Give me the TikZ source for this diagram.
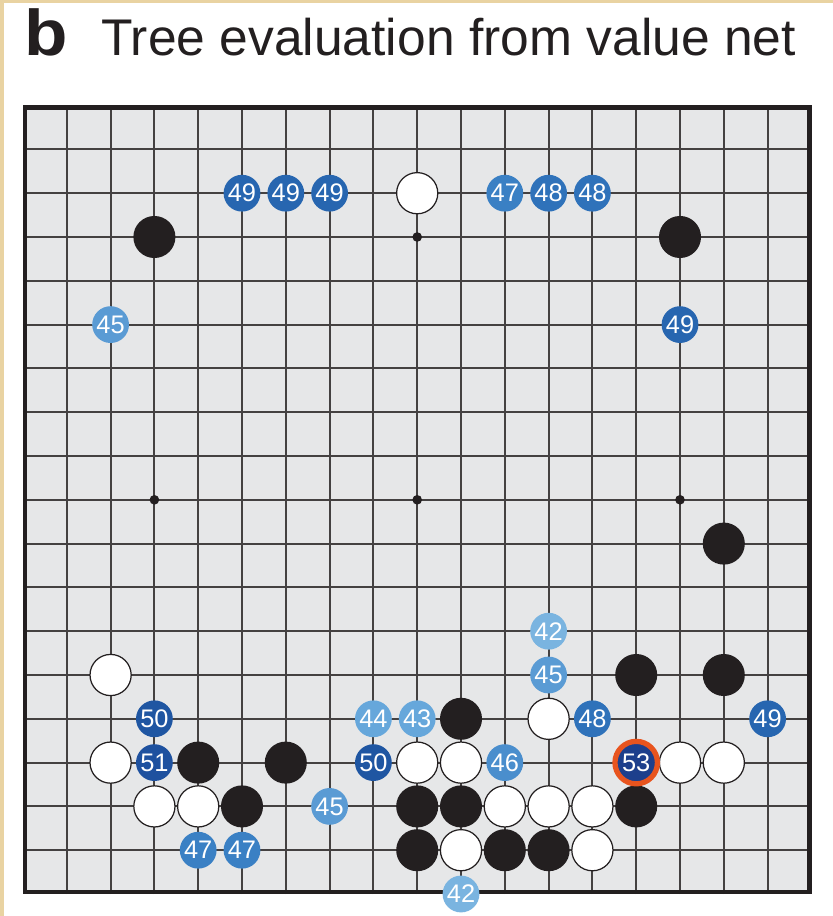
\documentclass[tikz,border=0pt]{standalone}
\usepackage{fontspec}
\setmainfont{Liberation Sans}

\definecolor{paper}{HTML}{E9D3A2}
\definecolor{board}{HTML}{E6E7E8}
\definecolor{ink}{HTML}{231F20}
\definecolor{ring}{HTML}{E8541E}
\definecolor{v42}{HTML}{7AB4E0}
\definecolor{v43}{HTML}{66A7DB}
\definecolor{v44}{HTML}{66A7DB}
\definecolor{v45}{HTML}{5A9BD4}
\definecolor{v46}{HTML}{4A8ECD}
\definecolor{v47}{HTML}{3A80C4}
\definecolor{v48}{HTML}{2F72BA}
\definecolor{v49}{HTML}{2766B0}
\definecolor{v50}{HTML}{1F56A2}
\definecolor{v51}{HTML}{1E519F}
\definecolor{v53}{HTML}{1D3F8C}

\tikzset{
  gridline/.style={draw=ink!85, line width=1.2pt},
  boardedge/.style={draw=ink, line width=0.1cm},
  blackstone/.style={circle, fill=ink, minimum size=0.96cm, inner sep=0pt},
  whitestone/.style={circle, fill=white, draw=ink, line width=0.8pt, minimum size=0.94cm, inner sep=0pt},
  valdisc/.style={circle, minimum size=0.84cm, inner sep=0pt, text=white,
    font=\fontsize{16.5}{16.5}\selectfont},
  bestmove/.style={valdisc, draw=ring, line width=0.12cm, minimum size=0.97cm}
}

\begin{document}
\begin{tikzpicture}
    \useasboundingbox (-0.525,-0.502) rectangle (18.493,20.411);
    \fill[white] (-0.525,-0.502) rectangle (18.493,20.411);
    \fill[paper] (-0.525,-0.502) rectangle (-0.43,20.411);
    \fill[paper] (-0.525,20.34) rectangle (18.493,20.411);

    \node[anchor=base west, inner sep=0pt, text=ink, xscale=1.1,
      font=\fontsize{42}{42}\selectfont\bfseries] (panel) at (0.03,19.155) {b};
    \node[anchor=base west, inner sep=0pt, text=ink,
      font=\fontsize{33.5}{34}\selectfont] (title) at (1.78,19.155) {Tree evaluation from value net};

    \fill[board] (0,0) rectangle (18,18);
    \foreach \i in {1,...,17} {
        \draw[gridline] (\i,0) -- (\i,18);
        \draw[gridline] (0,\i) -- (18,\i);
    }
    \draw[boardedge] (0.04,0.04) rectangle (17.96,17.96);

    \foreach \c/\r in {3/3,9/3,15/3,3/9,9/9,15/9,3/15,9/15,15/15}
        \fill[ink] (\c,{18-\r}) circle (0.11);

    \foreach \c/\r in {3/3,15/3,16/10,14/13,16/13,10/14,4/15,6/15,5/16,9/16,10/16,14/16,9/17,11/17,12/17}
        \node[blackstone] (b\c-\r) at (\c,{18-\r}) {};

    \foreach \c/\r in {9/2,2/13,12/14,2/15,9/15,10/15,15/15,16/15,3/16,4/16,11/16,12/16,13/16,10/17,13/17}
        \node[whitestone] (w\c-\r) at (\c,{18-\r}) {};

    \foreach \c/\r/\v in {5/2/49,6/2/49,7/2/49,11/2/47,12/2/48,13/2/48,
        2/5/45,15/5/49,12/12/42,12/13/45,
        3/14/50,8/14/44,9/14/43,13/14/48,17/14/49,
        3/15/51,8/15/50,11/15/46,7/16/45,4/17/47,5/17/47,10/18/42}
        \node[valdisc, fill=v\v] (v\c-\r) at (\c,{18-\r}) {\v};

    \node[bestmove, fill=v53] (best) at (14,3) {53};
\end{tikzpicture}
\end{document}
